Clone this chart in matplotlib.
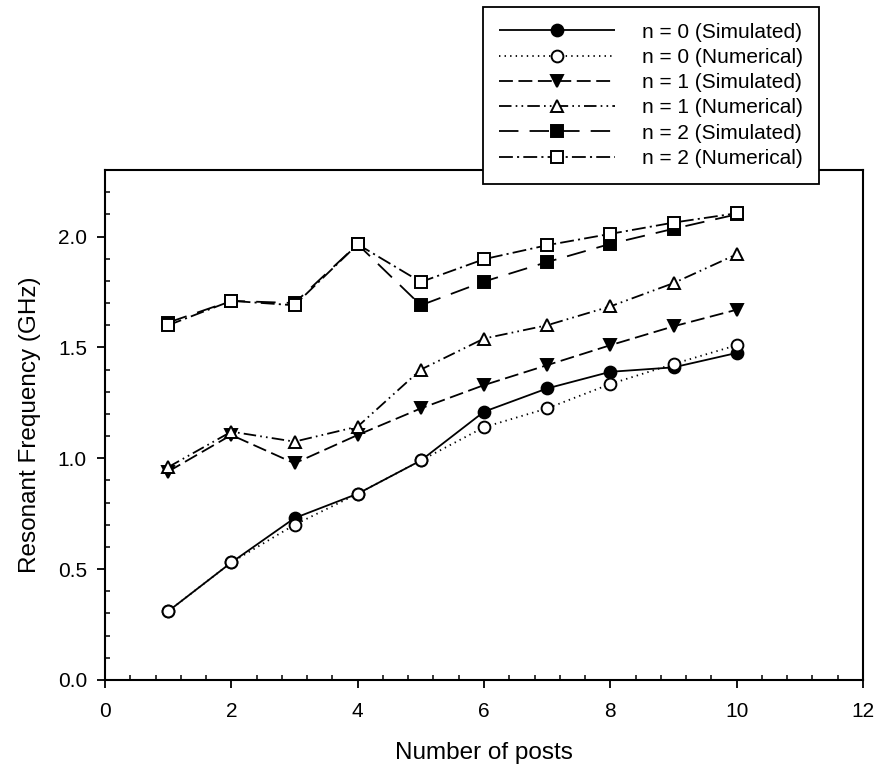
import matplotlib
matplotlib.use("Agg")
import matplotlib.pyplot as plt
from matplotlib.ticker import MultipleLocator

plt.rcParams['font.family'] = ['Liberation Sans', 'DejaVu Sans']
plt.rcParams['lines.scale_dashes'] = False

posts = [1, 2, 3, 4, 5, 6, 7, 8, 9, 10]
n0_sim = [0.31, 0.53, 0.73, 0.84, 0.99, 1.21, 1.315, 1.39, 1.41, 1.475]
n0_num = [0.31, 0.53, 0.70, 0.84, 0.99, 1.14, 1.225, 1.335, 1.425, 1.51]
n1_sim = [0.94, 1.105, 0.977, 1.105, 1.225, 1.33, 1.42, 1.51, 1.595, 1.67]
n1_num = [0.96, 1.12, 1.075, 1.143, 1.40, 1.54, 1.60, 1.685, 1.79, 1.92]
n2_sim = [1.612, 1.71, 1.70, 1.965, 1.69, 1.797, 1.885, 1.967, 2.035, 2.10]
n2_num = [1.60, 1.71, 1.69, 1.965, 1.795, 1.898, 1.961, 2.012, 2.063, 2.105]

labels = ["n = 0 (Simulated)", "n = 0 (Numerical)", "n = 1 (Simulated)",
          "n = 1 (Numerical)", "n = 2 (Simulated)", "n = 2 (Numerical)"]

fig = plt.figure(figsize=(8.75, 7.68), dpi=100)
ax = fig.add_axes([0.12, 0.1146, 0.8663, 0.664])

lw = 1.3
ms = 8.5
series = [
    (n0_sim, 'o', 'black', (0, ())),
    (n0_num, 'o', 'white', (0, (1, 3))),
    (n1_sim, 'v', 'black', (0, (10, 4))),
    (n1_num, '^', 'white', (0, (9, 3, 1.2, 3, 1.2, 3))),
    (n2_sim, 's', 'black', (0, (14, 8))),
    (n2_num, 's', 'white', (0, (10, 3, 1.5, 3))),
]
for (vals, mk, fc, ls), lab in zip(series, labels):
    ax.plot(posts, vals, linestyle=ls, color='black', lw=lw, marker=mk,
            markersize=ms, markerfacecolor=fc, markeredgecolor='black',
            markeredgewidth=1.4, label=lab)

ax.set_xlim(0, 12)
ax.set_ylim(0, 2.3)
ax.xaxis.set_major_locator(MultipleLocator(2))
ax.xaxis.set_minor_locator(MultipleLocator(0.4))
ax.yaxis.set_major_locator(MultipleLocator(0.5))
ax.yaxis.set_minor_locator(MultipleLocator(0.1))
ax.yaxis.set_major_formatter(matplotlib.ticker.FormatStrFormatter('%.1f'))
ax.tick_params(which='major', direction='out', length=6, width=1.3, labelsize=15, pad=7)
ax.tick_params(axis='x', which='major', pad=10)
ax.tick_params(which='minor', direction='in', length=3.5, width=1.1)
for s in ax.spines.values():
    s.set_linewidth(1.5)

ax.set_xlabel("Number of posts", fontsize=17.5, labelpad=15)
ax.set_ylabel("Resonant Frequency (GHz)", fontsize=17.5, labelpad=12)

leg = ax.legend(loc='upper left', bbox_to_anchor=(483/875, 1 - 7/768),
                bbox_transform=fig.transFigure, fontsize=15, numpoints=1,
                handlelength=5.6, handletextpad=1.3, labelspacing=0.3,
                borderpad=0.75, borderaxespad=0, fancybox=False, framealpha=1,
                edgecolor='black')
leg.get_frame().set_linewidth(1.3)
leg.set_zorder(10)

fig.savefig("out.png", dpi=100)
